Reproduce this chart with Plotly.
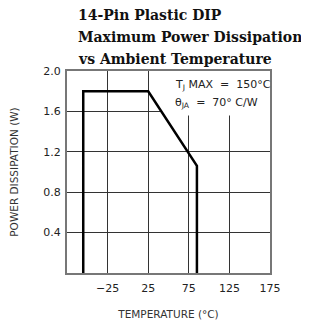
import plotly.graph_objects as go

temperature = [-55, -55, 25, 85, 85]
power = [0, 1.8, 1.8, 1.06, 0]

x_ticks = [-25, 25, 75, 125, 175]
y_ticks = [0.4, 0.8, 1.2, 1.6, 2.0]
y_tick_text = ["0.4", "0.8", "1.2", "1.6", "2.0"]
x_tick_text = ["\u221225", "25", "75", "125", "175"]

title_lines = ["14-Pin Plastic DIP", "Maximum Power Dissipation", "vs Ambient Temperature"]

# page body has an 8px margin; figure sized to fit the window
OFF = 8
W, H = 309 - OFF, 324 - OFF
L, R, T, B = 67 - OFF, 39, 71 - OFF, 51
PW, PH = W - L - R, H - T - B

fig = go.Figure()
fig.add_trace(go.Scatter(x=temperature, y=power, mode="lines",
                         line=dict(color="black", width=2.5), hoverinfo="skip"))

axis_common = dict(showgrid=True, gridcolor="#333333", gridwidth=1,
                   showline=True, linecolor="#777777", linewidth=2, mirror=True,
                   zeroline=False, ticks="", automargin=False,
                   tickfont=dict(family="DejaVu Sans", size=11, color="#222222"))

fig.update_xaxes(range=[-75, 175], tickvals=x_ticks, ticktext=x_tick_text,
                 ticklabelstandoff=4,
                 title=dict(text="TEMPERATURE (\u00b0C)",
                            font=dict(family="DejaVu Sans", size=10.5, color="#333333"),
                            standoff=16),
                 **axis_common)
fig.update_yaxes(range=[0, 2.0], tickvals=y_ticks, ticktext=y_tick_text,
                 ticklabelstandoff=2,
                 title=dict(text="POWER DISSIPATION (W)",
                            font=dict(family="DejaVu Sans", size=10.5, color="#333333"),
                            standoff=24),
                 **axis_common)

fig.add_shape(type="rect", x0=40, x1=175, y0=1.56, y1=2.0, xref="x", yref="y",
              fillcolor="white", line=dict(width=0), layer="between")

fig.add_annotation(x=55, y=1.86, xref="x", yref="y", xanchor="left", yanchor="middle",
                   text="T<sub>J</sub> MAX  =  150\u00b0C", showarrow=False,
                   font=dict(family="DejaVu Sans", size=11, color="#222222"))
fig.add_annotation(x=55, y=1.68, xref="x", yref="y", xanchor="left", yanchor="middle",
                   text="\u03b8<sub>JA</sub>  =  70\u00b0 C/W", showarrow=False,
                   font=dict(family="DejaVu Sans", size=11, color="#222222"))

title_y_px = [15, 37, 59]
for t, ypx in zip(title_lines, title_y_px):
    fig.add_annotation(x=(76 - 67) / PW, y=(273 - ypx) / PH, xref="paper", yref="paper",
                       xanchor="left", yanchor="middle", text="<b>" + t + "</b>",
                       showarrow=False,
                       font=dict(family="DejaVu Serif", size=14, color="#111111"))

fig.update_layout(width=W, height=H, margin=dict(l=L, r=R, t=T, b=B),
                  plot_bgcolor="white", paper_bgcolor="white", showlegend=False)

fig.write_html("out.html")
